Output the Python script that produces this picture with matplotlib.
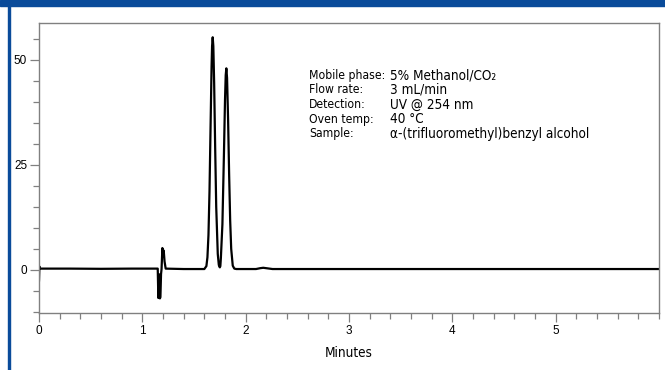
import matplotlib
matplotlib.use("Agg")
import matplotlib.pyplot as plt
from matplotlib.ticker import MultipleLocator
from matplotlib import font_manager
from matplotlib.font_manager import FontProperties
from matplotlib.patches import Rectangle

# chromatogram trace (minutes, signal)
times = [0.0, 0.004, 0.012, 0.3, 0.6, 0.9, 1.10, 1.149, 1.155, 1.160, 1.165,
         1.170, 1.175, 1.181, 1.186, 1.194, 1.200, 1.207, 1.215, 1.226, 1.40,
         1.60, 1.62, 1.63, 1.64, 1.65, 1.66, 1.67, 1.675, 1.681, 1.687, 1.695,
         1.705, 1.715, 1.73, 1.74, 1.745, 1.75, 1.755, 1.76, 1.775, 1.79, 1.80,
         1.807, 1.813, 1.82, 1.83, 1.84, 1.85, 1.86, 1.875, 1.89, 1.91, 2.10,
         2.14, 2.17, 2.20, 2.26, 2.6, 3.2, 4.0, 5.0, 6.0]
signal = [-2.5, 0.8, 0.3, 0.3, 0.25, 0.3, 0.3, 0.3, -6.7, -1.0, -4.0,
          -6.8, -6.5, -1.0, 0.2, 5.2, 4.0, 4.6, 2.0, 0.3, 0.2,
          0.2, 0.9, 3.0, 8.3, 18.7, 33.7, 48.4, 53.3, 55.4, 53.3, 44.5,
          28.9, 15.0, 3.8, 1.2, 0.8, 0.6, 0.9, 2.8, 10.9, 27.9, 40.4,
          46.4, 48.0, 45.7, 35.7, 22.7, 11.8, 5.0, 1.0, 0.3, 0.2, 0.2,
          0.4, 0.5, 0.4, 0.2, 0.2, 0.2, 0.2, 0.2, 0.2]

xticks = [0, 1, 2, 3, 4, 5]
yticks = [0, 25, 50]

labels = ["Mobile phase:", "Flow rate:", "Detection:", "Oven temp:", "Sample:"]
values = ["5% Methanol/CO\u2082", "3 mL/min", "UV @ 254 nm", "40 \u00b0C",
          "\u03b1-(trifluoromethyl)benzyl alcohol"]


def find_narrow():
    # look for a condensed sans face to mimic the Frutiger Condensed look
    prefs = ["LiberationSansNarrow-Regular", "DejaVuSansCondensed"]
    files = [f.fname for f in font_manager.fontManager.ttflist]
    for p in prefs:
        for fn in files:
            if fn.endswith(p + ".ttf"):
                return fn
    return None


narrow_file = find_narrow()


def make_fp(size):
    if narrow_file:
        return FontProperties(fname=narrow_file, size=size)
    return FontProperties(family="DejaVu Sans", size=size)


available = {f.name for f in font_manager.fontManager.ttflist}
plain = "Liberation Sans" if "Liberation Sans" in available else "DejaVu Sans"

fig = plt.figure(figsize=(6.65, 3.7), dpi=100)
ax = fig.add_axes([39 / 665, 1 - 312.7 / 370, 620 / 665, (312.7 - 23) / 370])

ax.plot(times, signal, color="black", lw=1.6, solid_joinstyle="round")

ax.set_xlim(0, 6)
ax.set_ylim(-10.2, 58.8)
ax.set_xticks(xticks)
ax.set_yticks(yticks)
ax.xaxis.set_minor_locator(MultipleLocator(0.2))
ax.yaxis.set_minor_locator(MultipleLocator(5))
ax.tick_params(which="major", length=6.5, width=0.9, color="#808080", pad=2,
               labelsize=8.5)
ax.tick_params(which="minor", length=4, width=0.9, color="#808080")
for lab in ax.get_xticklabels() + ax.get_yticklabels():
    lab.set_fontfamily(plain)
for s in ax.spines.values():
    s.set_color("#808080")
    s.set_linewidth(1.0)

# size the value column to the reference width (200 px for the longest line)
renderer = fig.canvas.get_renderer()
probe = fig.text(0, 0, values[-1], fontproperties=make_fp(10))
val_size = 10 * 200 / probe.get_window_extent(renderer).width
key_size = 0.9 * val_size
probe.set_fontproperties(make_fp(key_size))
probe.set_text(labels[0])
key_w = probe.get_window_extent(renderer).width
probe.remove()

key_fp = make_fp(key_size)
val_fp = make_fp(val_size)

ax.set_xlabel("Minutes", fontproperties=val_fp, labelpad=7)

px = lambda x: (x - 39) / 103.3
key_x = min(332, 385 - key_w)
y0 = 46.4
step = 3.5
for i, (k, v) in enumerate(zip(labels, values)):
    y = y0 - i * step
    ax.text(px(key_x), y, k, fontproperties=key_fp, va="center")
    ax.text(px(390), y, v, fontproperties=val_fp, va="center")

# blue frame pieces
blue = "#0a4b9a"
fig.patches.append(Rectangle((0, 1 - 6 / 370), 1, 6 / 370, transform=fig.transFigure,
                             color=blue, zorder=5))
fig.patches.append(Rectangle((7.5 / 665, 0), 2.2 / 665, 1, transform=fig.transFigure,
                             color=blue, zorder=5))

fig.savefig("out.png", dpi=100)
